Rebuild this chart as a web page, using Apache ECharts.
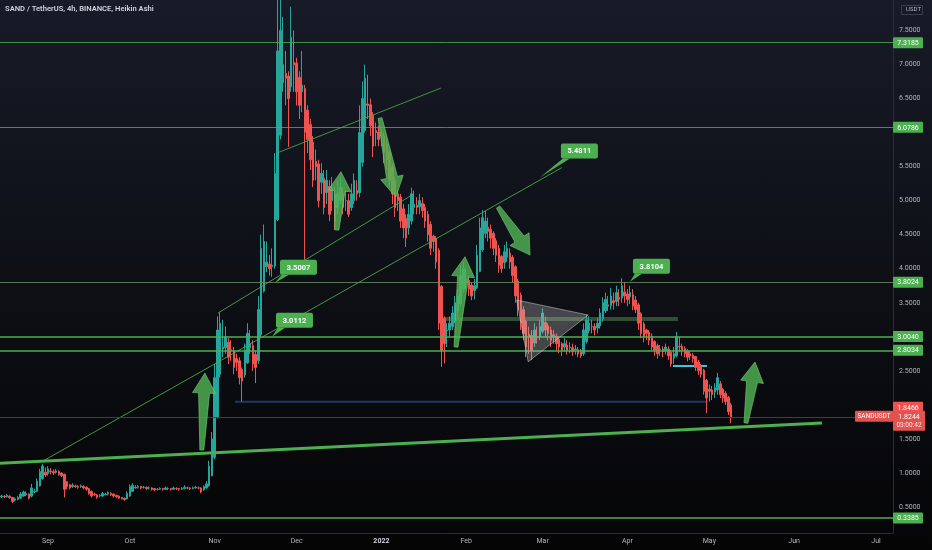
<!DOCTYPE html>
<html><head><meta charset="utf-8">
<script src="https://cdn.jsdelivr.net/npm/echarts@6/dist/echarts.min.js"></script>
<style>
html,body{margin:0;padding:0;width:932px;height:550px;overflow:hidden;background:linear-gradient(180deg,#171b27 0%,#0f1118 45%,#050506 100%);}
#c{width:932px;height:550px;}
</style></head><body><div id="c"></div><script>
// ---------- data ----------
const titleText = 'SAND / TetherUS, 4h, BINANCE, Heikin Ashi';
const firstCandleDay = -17;               // days relative to 2021-09-01
// Heikin Ashi candles: [open, close, low, high], one per day
const candles = [
[0.65,0.66,0.63,0.68],[0.66,0.65,0.63,0.67],[0.65,0.67,0.64,0.69],[0.66,0.64,0.62,0.67],[0.64,0.58,0.56,0.65],
[0.60,0.62,0.58,0.64],[0.61,0.64,0.60,0.66],[0.63,0.69,0.62,0.72],[0.66,0.72,0.65,0.74],[0.70,0.68,0.66,0.73],
[0.69,0.63,0.61,0.70],[0.66,0.78,0.64,0.84],[0.72,0.73,0.70,0.77],[0.73,0.88,0.72,0.92],[0.81,1.02,0.80,1.06],
[0.92,1.10,0.90,1.13],[1.01,0.97,0.94,1.08],
[0.99,1.06,0.96,1.10],[1.03,1.02,0.98,1.07],[1.02,1.00,0.97,1.05],[1.01,1.03,0.99,1.06],[1.02,0.98,0.96,1.04],
[1.00,0.96,0.94,1.01],[0.98,0.76,0.64,0.99],[0.87,0.80,0.76,0.88],[0.83,0.78,0.76,0.84],[0.80,0.82,0.78,0.85],
[0.81,0.80,0.78,0.83],[0.80,0.79,0.77,0.82],[0.80,0.81,0.78,0.83],[0.80,0.78,0.76,0.82],[0.79,0.76,0.74,0.80],
[0.77,0.70,0.68,0.78],[0.73,0.66,0.64,0.74],[0.69,0.68,0.66,0.71],[0.68,0.64,0.62,0.69],[0.66,0.67,0.64,0.69],
[0.66,0.70,0.65,0.72],[0.68,0.69,0.67,0.71],[0.69,0.71,0.67,0.73],[0.70,0.68,0.66,0.72],[0.69,0.66,0.64,0.70],
[0.67,0.65,0.63,0.68],[0.66,0.63,0.62,0.67],[0.64,0.62,0.61,0.65],[0.63,0.61,0.59,0.64],[0.62,0.70,0.61,0.73],
[0.66,0.80,0.65,0.83],[0.73,0.82,0.72,0.85],[0.78,0.79,0.77,0.82],[0.79,0.80,0.77,0.82],[0.80,0.78,0.76,0.81],
[0.79,0.79,0.77,0.81],[0.79,0.77,0.75,0.80],[0.78,0.78,0.76,0.80],[0.78,0.76,0.74,0.79],[0.77,0.75,0.73,0.78],
[0.76,0.76,0.74,0.78],[0.76,0.77,0.75,0.79],[0.77,0.76,0.74,0.78],[0.76,0.78,0.75,0.80],[0.77,0.77,0.75,0.79],
[0.77,0.76,0.74,0.78],[0.76,0.78,0.75,0.80],[0.77,0.77,0.75,0.79],[0.77,0.76,0.74,0.78],[0.76,0.77,0.75,0.79],
[0.77,0.79,0.76,0.82],[0.78,0.78,0.76,0.80],[0.78,0.77,0.75,0.79],[0.77,0.78,0.76,0.80],[0.78,0.79,0.77,0.81],
[0.78,0.78,0.76,0.80],[0.78,0.72,0.70,0.79],[0.75,0.80,0.74,0.82],[0.78,0.84,0.77,0.88],[0.81,1.10,0.80,1.18],
[0.96,1.50,0.95,1.60],[1.23,2.40,1.20,2.60],[1.82,3.10,1.80,3.30],[2.45,3.20,2.40,3.36],[2.82,2.85,2.70,3.25],
[2.84,3.00,2.75,3.15],[2.92,2.70,2.60,2.98],[2.81,2.80,2.65,2.95],[2.80,2.55,2.45,2.85],[2.68,2.62,2.50,2.75],
[2.65,2.40,2.30,2.70],[2.52,2.35,2.05,2.55],[2.44,2.80,2.40,2.90],[2.62,3.05,2.60,3.20],[2.84,2.90,2.75,3.10],
[2.87,2.60,2.50,2.95],[2.74,2.55,2.32,2.80],[2.65,3.40,2.60,3.60],[3.03,4.30,3.00,4.50],[3.67,4.40,3.65,4.65],
[4.03,4.10,3.95,4.40],[4.07,4.00,3.90,4.20],[4.03,4.05,3.88,4.30],[4.04,5.40,4.00,5.70],[4.72,7.20,4.70,8.40],
[5.96,7.50,5.90,8.40],[6.73,7.00,6.60,7.70],[6.87,6.80,6.40,7.20],[6.83,6.50,5.79,6.90],[6.67,7.40,6.60,7.85],
[7.03,7.00,6.60,7.50],[7.02,6.60,6.40,7.10],[6.81,6.40,6.20,6.90],[6.60,6.70,6.30,7.20],[6.65,6.00,4.13,6.70],
[6.33,5.90,5.70,6.40],[6.12,5.60,5.45,6.20],[5.86,5.30,5.20,5.95],[5.58,5.50,5.30,5.75],[5.54,5.00,4.90,5.60],
[5.27,5.40,5.10,5.55],[5.33,4.90,4.80,5.45],[5.12,5.30,4.95,5.45],[5.21,4.80,4.70,5.30],[5.00,5.20,4.85,5.35],
[5.10,4.70,4.57,5.20],[4.90,5.10,4.80,5.30],[5.00,5.20,4.95,5.35],[5.10,4.90,4.80,5.20],[5.00,5.00,4.85,5.15],
[5.00,4.80,4.76,5.10],[4.90,5.10,4.85,5.25],[5.00,5.30,4.95,5.40],[5.15,5.10,5.00,5.30],[5.12,6.00,5.05,6.40],
[5.56,6.50,5.50,6.75],[6.03,6.80,6.00,7.00],[6.42,6.40,6.20,6.85],[6.41,6.10,5.95,6.50],[6.25,5.80,5.64,6.30],
[6.03,6.00,5.80,6.15],[6.01,5.90,5.80,6.10],[5.96,5.95,5.80,6.05],[5.95,5.70,5.55,6.00],[5.83,5.60,5.45,5.90],
[5.71,5.30,5.20,5.75],[5.50,5.10,4.95,5.55],[5.30,4.90,4.76,5.35],[5.10,5.00,4.85,5.15],[5.05,4.70,4.60,5.10],
[4.88,4.60,4.45,4.95],[4.74,4.45,4.32,4.80],[4.60,4.80,4.50,4.95],[4.70,5.10,4.65,5.19],[4.90,4.95,4.80,5.15],
[4.93,4.90,4.80,5.05],[4.91,5.00,4.80,5.10],[4.96,4.85,4.75,5.05],[4.90,4.70,4.60,4.95],[4.80,4.50,4.40,4.85],
[4.65,4.30,4.20,4.70],[4.48,4.40,4.25,4.50],[4.44,4.10,4.00,4.48],[4.27,3.20,3.10,4.30],[3.74,2.80,2.56,3.76],
[3.27,2.90,2.61,3.30],[3.09,3.10,2.85,3.20],[3.10,3.20,3.00,3.30],[3.15,3.35,3.10,3.45],[3.25,3.50,3.20,3.60],
[3.38,3.60,3.30,3.70],[3.49,3.90,3.45,4.05],[3.70,4.00,3.65,4.10],[3.85,3.80,3.70,4.00],[3.83,3.70,3.60,3.90],
[3.76,3.60,3.54,3.80],[3.68,3.75,3.55,3.85],[3.72,4.20,3.70,4.35],[3.96,4.60,3.95,4.75],[4.28,4.75,4.25,4.86],
[4.52,4.70,4.45,4.85],[4.61,4.55,4.40,4.75],[4.58,4.45,4.30,4.65],[4.52,4.30,4.20,4.55],[4.41,4.20,4.10,4.45],
[4.30,4.05,3.94,4.35],[4.18,4.00,3.94,4.20],[4.09,4.25,4.00,4.35],[4.17,4.30,4.10,4.40],[4.23,4.10,4.00,4.30],
[4.17,3.90,3.80,4.20],[4.03,3.60,3.50,4.05],[3.82,3.40,3.30,3.85],[3.61,3.20,3.10,3.65],[3.40,3.05,2.95,3.45],
[3.23,2.85,2.70,3.25],[3.04,3.00,2.75,3.15],[3.02,2.80,2.66,3.10],[2.91,3.10,2.85,3.20],[3.00,3.00,2.90,3.15],
[3.00,3.15,2.95,3.25],[3.08,3.35,3.05,3.42],[3.21,3.10,3.00,3.30],[3.16,3.05,2.95,3.20],[3.10,2.95,2.85,3.15],
[3.03,3.00,2.90,3.10],[3.01,2.90,2.80,3.05],[2.96,2.85,2.76,3.00],[2.90,2.80,2.72,2.92],[2.85,2.90,2.78,2.98],
[2.88,2.80,2.74,2.95],[2.84,2.85,2.76,2.92],[2.84,2.78,2.72,2.90],[2.81,2.82,2.74,2.88],[2.81,2.75,2.70,2.85],
[2.78,2.72,2.69,2.82],[2.75,3.10,2.72,3.20],[2.93,3.25,2.90,3.32],[3.09,3.20,3.05,3.30],[3.15,3.15,3.05,3.25],
[3.15,3.10,3.02,3.20],[3.13,3.20,3.05,3.28],[3.16,3.35,3.12,3.42],[3.26,3.50,3.22,3.58],[3.38,3.55,3.35,3.65],
[3.47,3.45,3.38,3.60],[3.46,3.60,3.40,3.72],[3.53,3.50,3.40,3.65],[3.52,3.65,3.45,3.75],[3.58,3.55,3.45,3.70],
[3.57,3.75,3.50,3.86],[3.66,3.60,3.50,3.80],[3.63,3.55,3.45,3.70],[3.59,3.65,3.48,3.75],[3.62,3.45,3.39,3.70],
[3.54,3.40,3.35,3.60],[3.47,3.20,3.10,3.50],[3.34,3.05,2.98,3.36],[3.19,3.00,2.92,3.22],[3.10,3.05,2.95,3.12],
[3.07,2.95,2.88,3.10],[3.01,2.85,2.80,3.05],[2.93,2.80,2.72,2.95],[2.87,2.75,2.68,2.90],[2.81,2.82,2.72,2.88],
[2.82,2.78,2.70,2.86],[2.80,2.85,2.74,2.90],[2.82,2.72,2.66,2.86],[2.77,2.60,2.56,2.80],[2.69,2.75,2.60,2.85],
[2.72,3.00,2.70,3.07],[2.86,2.85,2.78,3.00],[2.86,2.80,2.72,2.90],[2.83,2.75,2.70,2.86],[2.79,2.70,2.64,2.82],
[2.75,2.72,2.66,2.80],[2.73,2.68,2.62,2.76],[2.71,2.55,2.50,2.72],[2.63,2.50,2.44,2.66],[2.57,2.45,2.40,2.60],
[2.51,2.20,2.15,2.53],[2.36,2.10,1.88,2.38],[2.23,2.20,2.05,2.30],[2.22,2.15,2.07,2.28],[2.19,2.25,2.10,2.32],
[2.22,2.40,2.15,2.47],[2.31,2.15,2.10,2.35],[2.23,2.10,2.03,2.25],[2.17,2.05,2.00,2.20],[2.11,1.90,1.85,2.13],
[2.00,1.82,1.73,2.03]
];
const monthTicks  = ['2021-09-01','2021-10-01','2021-11-01','2021-12-01','2022-01-01','2022-02-01','2022-03-01','2022-04-01','2022-05-01','2022-06-01','2022-07-01'];
const monthLabels = ['Sep','Oct','Nov','Dec','2022','Feb','Mar','Apr','May','Jun','Jul'];
const priceTicks  = [0.5,1.0,1.5,2.5,3.5,4.0,4.5,5.0,5.5,6.5,7.0,7.5];
const levelValues = [7.3185, 6.0786, 3.8024, 3.0040, 2.8034, 0.3385];
const lastPrice = 1.8244, haClose = 1.8466, countdown = '03:00:42', symbolName = 'SANDUSDT';
// trend lines: [[day, price],[day, price]] (day relative to 2021-09-01)
const trendLines = [
  [[-17.56,1.141],[283.2,1.733]],   // thick support
  [[-1.83,1.175],[188.1,5.487]],    // long rising line
  [[62.2,3.349],[133.2,5.083]],     // upper channel line
  [[83.8,5.70],[143.8,6.655]]       // top line
];
const segments = [
  [[68.4,2.046],[241.5,2.046]],     // dark blue
  [[142.7,3.261],[230.5,3.261]],    // green band
  [[228.7,2.571],[241.1,2.571]]     // cyan
];
const trianglePts = [[171.5,3.54],[197.7,3.32],[175.7,2.634]];
// arrows: [tailDay, tailPrice, tipDay, tipPrice]
const arrows = [
  [56.3,1.337,57.4,2.468],
  [105.7,4.569,107.2,5.425],
  [121.5,6.214,127.3,5.054],
  [149.3,2.85,152.6,4.177],
  [164.7,4.907,176.4,4.202],
  [255.4,1.734,258.7,2.63]
];
// price note labels: anchor [day, price]
const noteTexts   = ['5.4811','3.5007','3.0112','3.8104'];
const noteAnchors = [[180.0,5.34],[83.06,3.795],[81.96,3.001],[212.95,3.809]];

// ---------- helpers / styles ----------
const DAY = 86400000, dayZero = Date.UTC(2021,8,1);
const dayOf = s => { const p = s.split('-'); return Math.round((Date.UTC(+p[0], +p[1]-1, +p[2]) - dayZero)/DAY); };
const GREEN = '#4caf50', UP = '#26a69a', DOWN = '#ef5350', AXIS_TXT = '#b2b5be', FONT = 'Roboto, "Noto Sans", sans-serif';
const noteOffsets = [[21,-34],[5,-23],[4,-24],[3,-23]];
const levelStyles = [
  {w:1, c:GREEN, o:0.8},{w:1, c:GREEN, o:0.8},{w:1, c:'#6f8f62', o:0.8},
  {w:1.6, c:GREEN, o:1},{w:1.6, c:GREEN, o:1},{w:1.5, c:GREEN, o:1}];
const segStyles = [{w:2, c:'#1f3766', o:1},{w:4, c:'#4d7a48', o:0.6},{w:2, c:'#3fc6dc', o:1}];
const lineStyles = [{w:3, c:GREEN, o:1},{w:1, c:GREEN, o:0.85},{w:1, c:GREEN, o:0.85},{w:1, c:GREEN, o:0.8}];

const candleData = candles.map((c,i) => [firstCandleDay+i, c[0], c[1], c[2], c[3]]);
const monthDays = monthTicks.map(dayOf);

const series = [];
series.push({
  type:'candlestick', data:candleData, encode:{x:0, y:[1,2,3,4]}, barWidth:2, z:3,
  itemStyle:{color:UP, color0:DOWN, borderColor:UP, borderColor0:DOWN, borderWidth:1},
  markLine:{
    silent:true, symbol:['none','none'], animation:false,
    data: levelValues.map((v,i)=>({yAxis:v, lineStyle:{width:levelStyles[i].w, color:levelStyles[i].c, opacity:levelStyles[i].o, type:'solid'}, label:{show:false}}))
      .concat([{yAxis:lastPrice, lineStyle:{width:1, color:'#7a2e32', type:'solid', opacity:0.9}, label:{show:false}}])
  }
});
segments.forEach((s,i)=>series.push({type:'line', data:s, symbol:'none', z:2,
  lineStyle:{width:segStyles[i].w, color:segStyles[i].c, opacity:segStyles[i].o}}));
trendLines.forEach((s,i)=>series.push({type:'line', data:s, symbol:'none', z:4,
  lineStyle:{width:lineStyles[i].w, color:lineStyles[i].c, opacity:lineStyles[i].o}}));
// triangle
series.push({type:'custom', z:5, data:[[trianglePts[0][0], trianglePts[0][1]]], encode:{x:0,y:1}, renderItem:(params, api)=>{
  const pts = trianglePts.map(p=>api.coord(p));
  return {type:'polygon', shape:{points:pts}, style:{fill:'rgba(190,190,190,0.32)', stroke:'rgba(210,210,210,0.5)', lineWidth:1}};
}});
// arrows
series.push({type:'custom', z:6, data:arrows, encode:{x:[0,2], y:[1,3]},
  renderItem:(params, api)=>{
    const t = api.coord([api.value(0), api.value(1)]), h = api.coord([api.value(2), api.value(3)]);
    const dx=h[0]-t[0], dy=h[1]-t[1], L=Math.hypot(dx,dy), ux=dx/L, uy=dy/L, nx=-uy, ny=ux;
    const hl=Math.min(20, L*0.33), hw=11.5, sw=5.5, tw=2;
    const bx=h[0]-ux*hl, by=h[1]-uy*hl;
    const pts=[[t[0]+nx*tw,t[1]+ny*tw],[bx+nx*sw,by+ny*sw],[bx+nx*hw,by+ny*hw],[h[0],h[1]],[bx-nx*hw,by-ny*hw],[bx-nx*sw,by-ny*sw],[t[0]-nx*tw,t[1]-ny*tw]];
    return {type:'polygon', shape:{points:pts}, style:{fill:'rgba(80,178,84,0.82)', stroke:'rgba(120,196,120,0.9)', lineWidth:0.7}};
  }});
// note labels
series.push({type:'custom', z:8, data:noteAnchors.map((a,i)=>[a[0],a[1],i]), encode:{x:0,y:1},
  renderItem:(params, api)=>{
    const i = api.value(2), p = api.coord([api.value(0), api.value(1)]);
    const off = noteOffsets[i], w=37, h=15, bx=p[0]+off[0], by=p[1]+off[1];
    return {type:'group', children:[
      {type:'polygon', shape:{points:[[p[0],p[1]],[bx+2,by+h],[bx+9,by+h]]}, style:{fill:GREEN}},
      {type:'rect', shape:{x:bx,y:by,width:w,height:h,r:2}, style:{fill:GREEN}},
      {type:'text', style:{x:bx+w/2, y:by+h/2+0.5, text:noteTexts[i], fill:'#ffffff', font:'bold 7.5px '+FONT, align:'center', verticalAlign:'middle'}}
    ]};
  }});
// right-axis tags
const tagItems = levelValues.map(v=>({v, text:v.toFixed(4), bg:GREEN, dy:0}));
tagItems.push({v:haClose, text:haClose.toFixed(4), bg:'#ef5350', dy:-8});
series.push({type:'custom', z:10, clip:false, data:tagItems.map((t,i)=>[0, t.v, i]), encode:{x:0,y:1},
  renderItem:(params, api)=>{
    const t = tagItems[api.value(2)], cs = params.coordSys;
    const y = api.coord([0, t.v])[1] + t.dy, x = cs.x + cs.width;
    return {type:'group', children:[
      {type:'rect', shape:{x:x, y:y-5.5, width:30, height:11, r:1}, style:{fill:t.bg}},
      {type:'text', style:{x:x+15, y:y+0.5, text:t.text, fill:'#ffffff', font:'7px '+FONT, align:'center', verticalAlign:'middle'}}
    ]};
  }});
// current price tag
series.push({type:'custom', z:11, clip:false, data:[[0, lastPrice]], encode:{x:0,y:1},
  renderItem:(params, api)=>{
    const cs = params.coordSys, x = cs.x + cs.width, y = api.coord([api.value(0), api.value(1)])[1];
    return {type:'group', children:[
      {type:'rect', shape:{x:x-38, y:y-6, width:38, height:11, r:1}, style:{fill:'#e3524f'}},
      {type:'text', style:{x:x-19, y:y, text:symbolName, fill:'#ffffff', font:'6.5px '+FONT, align:'center', verticalAlign:'middle'}},
      {type:'rect', shape:{x:x, y:y-6, width:32, height:20, r:1}, style:{fill:'#e3524f'}},
      {type:'text', style:{x:x+16, y:y, text:lastPrice.toFixed(4), fill:'#ffffff', font:'7px '+FONT, align:'center', verticalAlign:'middle'}},
      {type:'text', style:{x:x+16, y:y+8.5, text:countdown, fill:'#ffe0e0', font:'6.5px '+FONT, align:'center', verticalAlign:'middle'}}
    ]};
  }});

const chart = echarts.init(document.getElementById('c'), null, {renderer:'canvas'});
chart.setOption({
  animation:false, backgroundColor:'transparent',
  grid:{left:0, right:39, top:0, bottom:17, containLabel:false},
  xAxis:{type:'value', min:-17.56, max:309.2,
    axisLine:{show:true, onZero:false, lineStyle:{color:'#2a2e39', width:1}}, axisTick:{show:false}, splitLine:{show:false},
    axisLabel:{customValues:monthDays, margin:5, fontSize:7, color:AXIS_TXT, fontFamily:FONT,
      formatter:(v)=>{ const i = monthDays.indexOf(Math.round(v)); const s = i>=0?monthLabels[i]:''; return s==='2022'?'{b|'+s+'}':s; },
      rich:{b:{fontWeight:'bold', color:'#d1d4dc', fontSize:7, fontFamily:FONT}}}
  },
  yAxis:{type:'value', position:'right', min:0.118, max:7.948,
    axisLine:{show:true, onZero:false, lineStyle:{color:'#2a2e39'}}, axisTick:{show:false}, splitLine:{show:false},
    axisLabel:{customValues:priceTicks, margin:6, fontSize:7, color:AXIS_TXT, fontFamily:FONT, formatter:v=>Number(v).toFixed(4)}
  },
  graphic:[
    {type:'text', left:5, top:5.5, style:{text:titleText, fill:'#d1d4dc', font:'600 7.6px '+FONT}},
    {type:'rect', right:9, top:5, shape:{width:21, height:9}, style:{fill:'transparent', stroke:'#3a3e4a', lineWidth:1}},
    {type:'text', right:11, top:6.5, style:{text:'USDT', fill:AXIS_TXT, font:'6px '+FONT}}
  ],
  series
});
</script></body></html>
